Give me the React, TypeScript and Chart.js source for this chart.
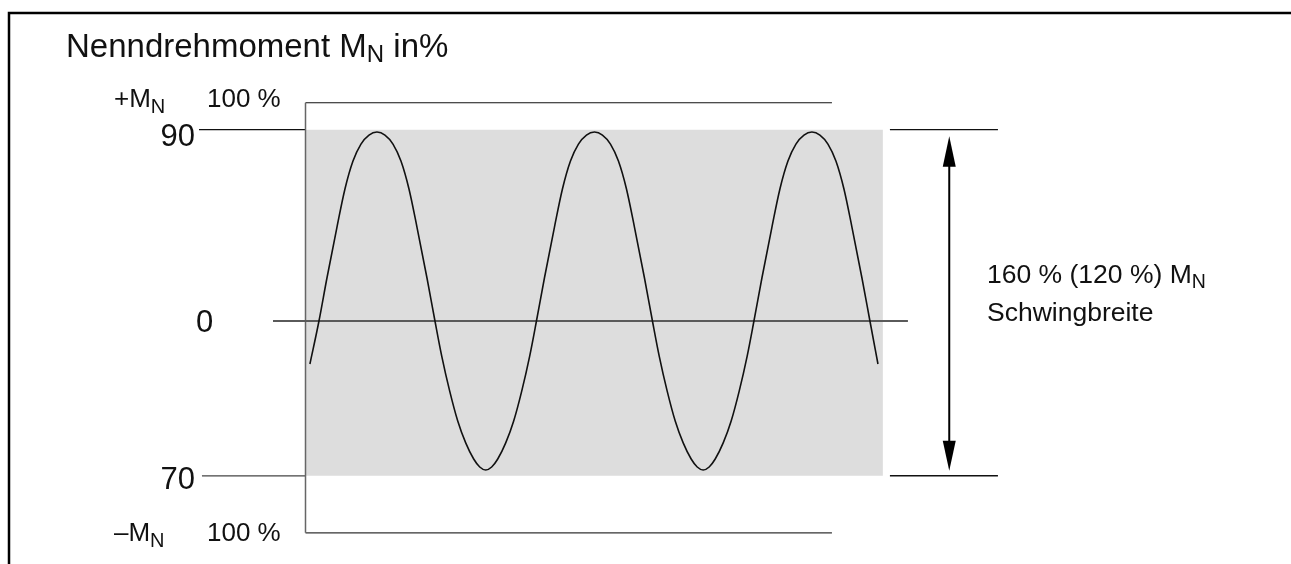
import React, { useEffect, useRef } from "react";
import { Chart, registerables } from "chart.js";

Chart.register(...registerables);

const W = 1291;
const H = 564;

// Sine-shaped torque curve: phase (degrees) vs torque (% of M_N)
const phaseDeg = [
  -21, -6, 7.2, 23.8, 37, 50.3, 63.5, 76.8, 90, 103.2, 116.5, 129.7, 143, 156.2, 172.8, 186,
  197.2, 210.4, 223.7, 236.9, 250.1, 260.1, 270, 279.9, 289.9, 303.1, 316.3, 329.6, 342.8, 354,
  367.2, 383.8, 397, 410.3, 423.5, 436.8, 450, 463.2, 476.5, 489.7, 503, 516.2, 532.8, 546,
  557.2, 570.4, 583.7, 596.9, 610.1, 620.1, 630, 639.9, 649.9, 663.1, 676.3, 689.6, 702.8, 714,
  727.2, 743.8, 757, 770.3, 783.5, 796.8, 810, 823.2, 836.5, 849.7, 863, 876.2, 892.8, 906,
  919.3,
];
const torquePct = [
  -20, 0, 20.0, 43.7, 61.4, 74.4, 82.3, 86.5, 87.9, 86.5, 82.3, 74.4, 61.4, 43.7, 20.0, 0,
  -16.3, -32.6, -46.5, -56.7, -64.2, -67.9, -69.3, -67.9, -64.2, -56.7, -46.5, -32.6, -16.3, 0,
  20.0, 43.7, 61.4, 74.4, 82.3, 86.5, 87.9, 86.5, 82.3, 74.4, 61.4, 43.7, 20.0, 0,
  -16.3, -32.6, -46.5, -56.7, -64.2, -67.9, -69.3, -67.9, -64.2, -56.7, -46.5, -32.6, -16.3, 0,
  20.0, 43.7, 61.4, 74.4, 82.3, 86.5, 87.9, 86.5, 82.3, 74.4, 61.4, 43.7, 20.0, 0,
  -20,
];

// Reference levels (% M_N): frame top (+M_N 100 %), band top (90), zero, band bottom (70), frame bottom (-M_N 100 %)
const levelValues = [101.5, 89, 0, -72, -98.5];
const levelLabels = ["100 %", "90", "0", "70", "100 %"];

// Horizontal extents (phase degrees) of the schematic elements
const frameLeftX = -28.3;
const frameRightX = 843.1;
const bandRightX = 927.5;
const tick90StartX = -204.6;
const tick70StartX = -199.7;
const zeroStartX = -82.1;
const zeroEndX = 968.9;
const rightTickX = [939.1, 1117.9];
const arrowX = 1037.3;

const xMin = -534;
const xMax = 1603;
const yMin = -113.02;
const yMax = 149.3;

const FONT = '"Liberation Sans", Arial, Helvetica, sans-serif';

type Part = { t: string; size: number; dy?: number };

function drawRich(ctx: CanvasRenderingContext2D, x: number, y: number, parts: Part[]) {
  let cx = x;
  for (const p of parts) {
    ctx.font = `${p.size}px ${FONT}`;
    ctx.fillText(p.t, cx, y + (p.dy || 0));
    cx += ctx.measureText(p.t).width;
  }
}

export default function App() {
  const ref = useRef<HTMLCanvasElement | null>(null);

  useEffect(() => {
    if (!ref.current) return;
    const [lvTop, lvBand, lvZero, lvBandLow, lvBottom] = levelValues;

    const seg = (x1: number, y1: number, x2: number, y2: number) => [
      { x: x1, y: y1 },
      { x: x2, y: y2 },
    ];

    const lineDs = (data: any[], color: string, width: number, order: number) => ({
      data,
      borderColor: color,
      borderWidth: width,
      pointRadius: 0,
      fill: false,
      tension: 0,
      order,
    });

    const decorPlugin = {
      id: "decor",
      afterDraw(chart: any) {
        const ctx: CanvasRenderingContext2D = chart.ctx;
        const xs = chart.scales.x;
        const ys = chart.scales.y;
        ctx.save();
        // outer frame
        ctx.strokeStyle = "#000";
        ctx.lineWidth = 2.5;
        ctx.beginPath();
        ctx.moveTo(9, H + 5);
        ctx.lineTo(9, 13);
        ctx.lineTo(W + 5, 13);
        ctx.stroke();

        // arrow
        const ax = xs.getPixelForValue(arrowX);
        const yT = ys.getPixelForValue(lvBand);
        const yB = ys.getPixelForValue(lvBandLow);
        const tipT = yT + 6.5;
        const baseT = tipT + 30.5;
        const tipB = yB - 5;
        const baseB = tipB - 30;
        ctx.lineWidth = 2;
        ctx.beginPath();
        ctx.moveTo(ax, baseT - 2);
        ctx.lineTo(ax, baseB + 2);
        ctx.stroke();
        ctx.fillStyle = "#000";
        ctx.beginPath();
        ctx.moveTo(ax, tipT);
        ctx.lineTo(ax - 6.5, baseT);
        ctx.lineTo(ax + 6.5, baseT);
        ctx.closePath();
        ctx.fill();
        ctx.beginPath();
        ctx.moveTo(ax, tipB);
        ctx.lineTo(ax - 6.5, baseB);
        ctx.lineTo(ax + 6.5, baseB);
        ctx.closePath();
        ctx.fill();

        // texts
        ctx.fillStyle = "#111";
        ctx.textBaseline = "alphabetic";
        ctx.textAlign = "left";
        drawRich(ctx, 66, 57, [
          { t: "Nenndrehmoment M", size: 33 },
          { t: "N", size: 24, dy: 5 },
          { t: " in%", size: 33 },
        ]);

        const yTopPx = ys.getPixelForValue(lvTop);
        const yBotPx = ys.getPixelForValue(lvBottom);
        drawRich(ctx, 114, yTopPx + 4, [
          { t: "+M", size: 26 },
          { t: "N", size: 20, dy: 6 },
        ]);
        drawRich(ctx, 207, yTopPx + 4, [{ t: levelLabels[0], size: 26 }]);
        drawRich(ctx, 114, yBotPx + 8, [
          { t: "–M", size: 26 },
          { t: "N", size: 20, dy: 6 },
        ]);
        drawRich(ctx, 207, yBotPx + 8, [{ t: levelLabels[4], size: 26 }]);

        ctx.font = `31px ${FONT}`;
        ctx.textAlign = "right";
        ctx.fillText(levelLabels[1], 195, yT + 16);
        ctx.fillText(levelLabels[3], 195, yB + 13);
        ctx.textAlign = "left";
        ctx.fillText(levelLabels[2], 196, ys.getPixelForValue(lvZero) + 11);

        drawRich(ctx, 987, 283, [
          { t: "160 % (120 %) M", size: 26.5 },
          { t: "N", size: 19.5, dy: 5 },
        ]);
        drawRich(ctx, 987, 321, [{ t: "Schwingbreite", size: 26.5 }]);
        ctx.restore();
      },
    };

    const chart = new Chart(ref.current, {
      type: "line",
      data: {
        datasets: [
          {
            ...lineDs(
              phaseDeg.map((p, i) => ({ x: p, y: torquePct[i] })),
              "#111",
              1.6,
              0
            ),
            cubicInterpolationMode: "monotone",
          } as any,
          lineDs(seg(zeroStartX, lvZero, zeroEndX, lvZero), "#5a5a5a", 2, 1),
          lineDs(seg(frameLeftX, lvTop, frameLeftX, lvBottom), "#666", 1.5, 1),
          lineDs(seg(frameLeftX, lvTop, frameRightX, lvTop), "#111", 1.2, 1),
          lineDs(seg(frameLeftX, lvBottom, frameRightX, lvBottom), "#333", 1.2, 1),
          lineDs(seg(tick90StartX, lvBand, frameLeftX, lvBand), "#111", 1.2, 1),
          lineDs(seg(tick70StartX, lvBandLow, frameLeftX, lvBandLow), "#444", 1.2, 1),
          lineDs(seg(rightTickX[0], lvBand, rightTickX[1], lvBand), "#111", 1.4, 1),
          lineDs(seg(rightTickX[0], lvBandLow, rightTickX[1], lvBandLow), "#111", 1.4, 1),
          {
            data: seg(frameLeftX, lvBand, bandRightX, lvBand),
            borderWidth: 0,
            borderColor: "rgba(0,0,0,0)",
            backgroundColor: "#dddddd",
            pointRadius: 0,
            fill: { value: lvBandLow },
            order: 5,
          } as any,
        ],
      },
      options: {
        animation: false,
        responsive: false,
        maintainAspectRatio: false,
        layout: { padding: 0 },
        parsing: false as any,
        plugins: {
          legend: { display: false },
          tooltip: { enabled: false },
          title: { display: false },
        },
        scales: {
          x: { type: "linear", min: xMin, max: xMax, display: false },
          y: { type: "linear", min: yMin, max: yMax, display: false },
        },
      },
      plugins: [decorPlugin],
    });
    return () => chart.destroy();
  }, []);

  return (
    <div style={{ position: "fixed", left: 0, top: 0, width: W, height: H, background: "#fff" }}>
      <canvas ref={ref} width={W} height={H} style={{ width: W, height: H, display: "block" }} />
    </div>
  );
}
